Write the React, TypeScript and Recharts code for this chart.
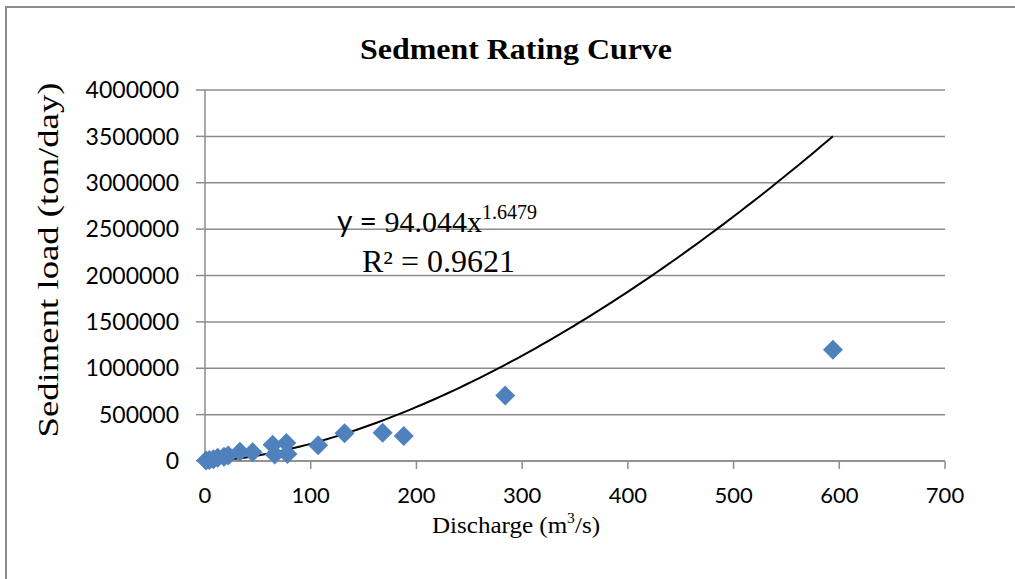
import React from "react";
import {
  ComposedChart,
  Scatter,
  Line,
  XAxis,
  YAxis,
  CartesianGrid,
} from "recharts";

// observed discharge (m3/s) and sediment load (ton/day)
const discharge = [1, 4, 8, 12, 18, 22, 33, 45, 64, 66, 77, 78, 107, 132, 168, 188, 284, 594];
const sedimentLoad = [
  5000, 12000, 20000, 35000, 45000, 60000, 100000, 95000, 175000, 70000,
  195000, 75000, 170000, 300000, 305000, 270000, 705000, 1200000,
];

const xTicks = [0, 100, 200, 300, 400, 500, 600, 700];
const yTicks = [0, 500000, 1000000, 1500000, 2000000, 2500000, 3000000, 3500000, 4000000];

// power-law trend line: y = a * x^b
const fitCoef = 94.044;
const fitExp = 1.6479;
const rSquared = 0.9621;
const fitStart = 1;
const fitEnd = 594;
const fitStep = 6;

const points = discharge.map((q, i) => ({ x: q, y: sedimentLoad[i] }));

const trend: { x: number; y: number }[] = [];
for (let q = fitStart; q < fitEnd; q += fitStep) {
  trend.push({ x: q, y: fitCoef * Math.pow(q, fitExp) });
}
trend.push({ x: fitEnd, y: fitCoef * Math.pow(fitEnd, fitExp) });

const MARKER = "#4F81BD";
const GRID = "#8c8c8c";
const SERIF = "'Liberation Serif', 'Times New Roman', serif";
const SANS = "Lato, Calibri, sans-serif";

const Diamond = (props: any) => {
  const { cx, cy } = props;
  if (cx == null || cy == null) return null;
  const r = 10;
  return (
    <path
      d={`M${cx},${cy - r} L${cx + r},${cy} L${cx},${cy + r} L${cx - r},${cy} Z`}
      fill={MARKER}
    />
  );
};

const YLabel = () => (
  <text
    transform="translate(58,260) rotate(-90)"
    textAnchor="middle"
    fontFamily={SERIF}
    fontSize={30}
    textLength={355}
    lengthAdjust="spacingAndGlyphs"
    fill="#000"
  >
    Sediment load (ton/day)
  </text>
);

const XLabel = () => (
  <text
    x={432}
    y={533}
    fontFamily={SERIF}
    fontSize={24}
    textLength={168}
    lengthAdjust="spacingAndGlyphs"
    fill="#000"
  >
    <tspan>Discharge (m</tspan>
    <tspan fontSize={15} dy={-10}>3</tspan>
    <tspan dy={10}>/s)</tspan>
  </text>
);

export default function App() {
  return (
    <div
      style={{
        position: "absolute",
        left: 0,
        top: 0,
        width: 1015,
        height: 579,
        background: "#fff",
        overflow: "hidden",
      }}
    >
      <div
        style={{
          position: "absolute",
          left: 5,
          top: 6,
          width: 1020,
          height: 590,
          borderTop: "2px solid #8c8c8c",
          borderLeft: "2px solid #8c8c8c",
        }}
      />
      <div style={{ position: "absolute", left: 0, top: 0 }}>
        <ComposedChart
          width={1015}
          height={579}
          margin={{ top: 90, right: 70, bottom: 58, left: 0 }}
        >
          <CartesianGrid vertical={false} stroke={GRID} strokeWidth={1.5} />
          <XAxis
            type="number"
            dataKey="x"
            domain={[0, 700]}
            ticks={xTicks}
            interval={0}
            height={60}
            tickSize={8}
            tickMargin={18}
            axisLine={{ stroke: GRID, strokeWidth: 1.5 }}
            tickLine={{ stroke: GRID, strokeWidth: 1.5 }}
            tick={{ fill: "#000", fontSize: 22, fontFamily: SANS }}
            label={<XLabel />}
          />
          <YAxis
            type="number"
            dataKey="y"
            domain={[0, 4000000]}
            ticks={yTicks}
            interval={0}
            width={205}
            tickSize={9}
            tickMargin={17}
            axisLine={{ stroke: GRID, strokeWidth: 1.5 }}
            tickLine={{ stroke: GRID, strokeWidth: 1.5 }}
            tick={{ fill: "#000", fontSize: 23, fontFamily: SANS }}
            label={<YLabel />}
          />
          <Scatter
            data={points}
            dataKey="y"
            shape={<Diamond />}
            isAnimationActive={false}
          />
          <Line
            data={trend}
            dataKey="y"
            type="monotone"
            stroke="#000"
            strokeWidth={2}
            dot={false}
            activeDot={false}
            isAnimationActive={false}
          />
        </ComposedChart>
      </div>
      <svg
        width={1015}
        height={579}
        style={{ position: "absolute", left: 0, top: 0, pointerEvents: "none" }}
      >
        <text
          x={360}
          y={59}
          fontFamily={SERIF}
          fontWeight="bold"
          fontSize={30}
          textLength={312}
          lengthAdjust="spacingAndGlyphs"
          fill="#000"
        >
          Sedment Rating Curve
        </text>
        <text x={337} y={232} fontSize={30} fill="#000">
          <tspan fontFamily={SANS}>y = </tspan>
          <tspan fontFamily={SERIF}>{fitCoef}x</tspan>
          <tspan fontFamily={SERIF} fontSize={20} dy={-13}>
            {fitExp}
          </tspan>
        </text>
        <text
          x={362}
          y={272}
          fontFamily={SERIF}
          fontSize={31}
          textLength={153}
          lengthAdjust="spacingAndGlyphs"
          fill="#000"
        >
          R² = {rSquared}
        </text>
      </svg>
    </div>
  );
}
